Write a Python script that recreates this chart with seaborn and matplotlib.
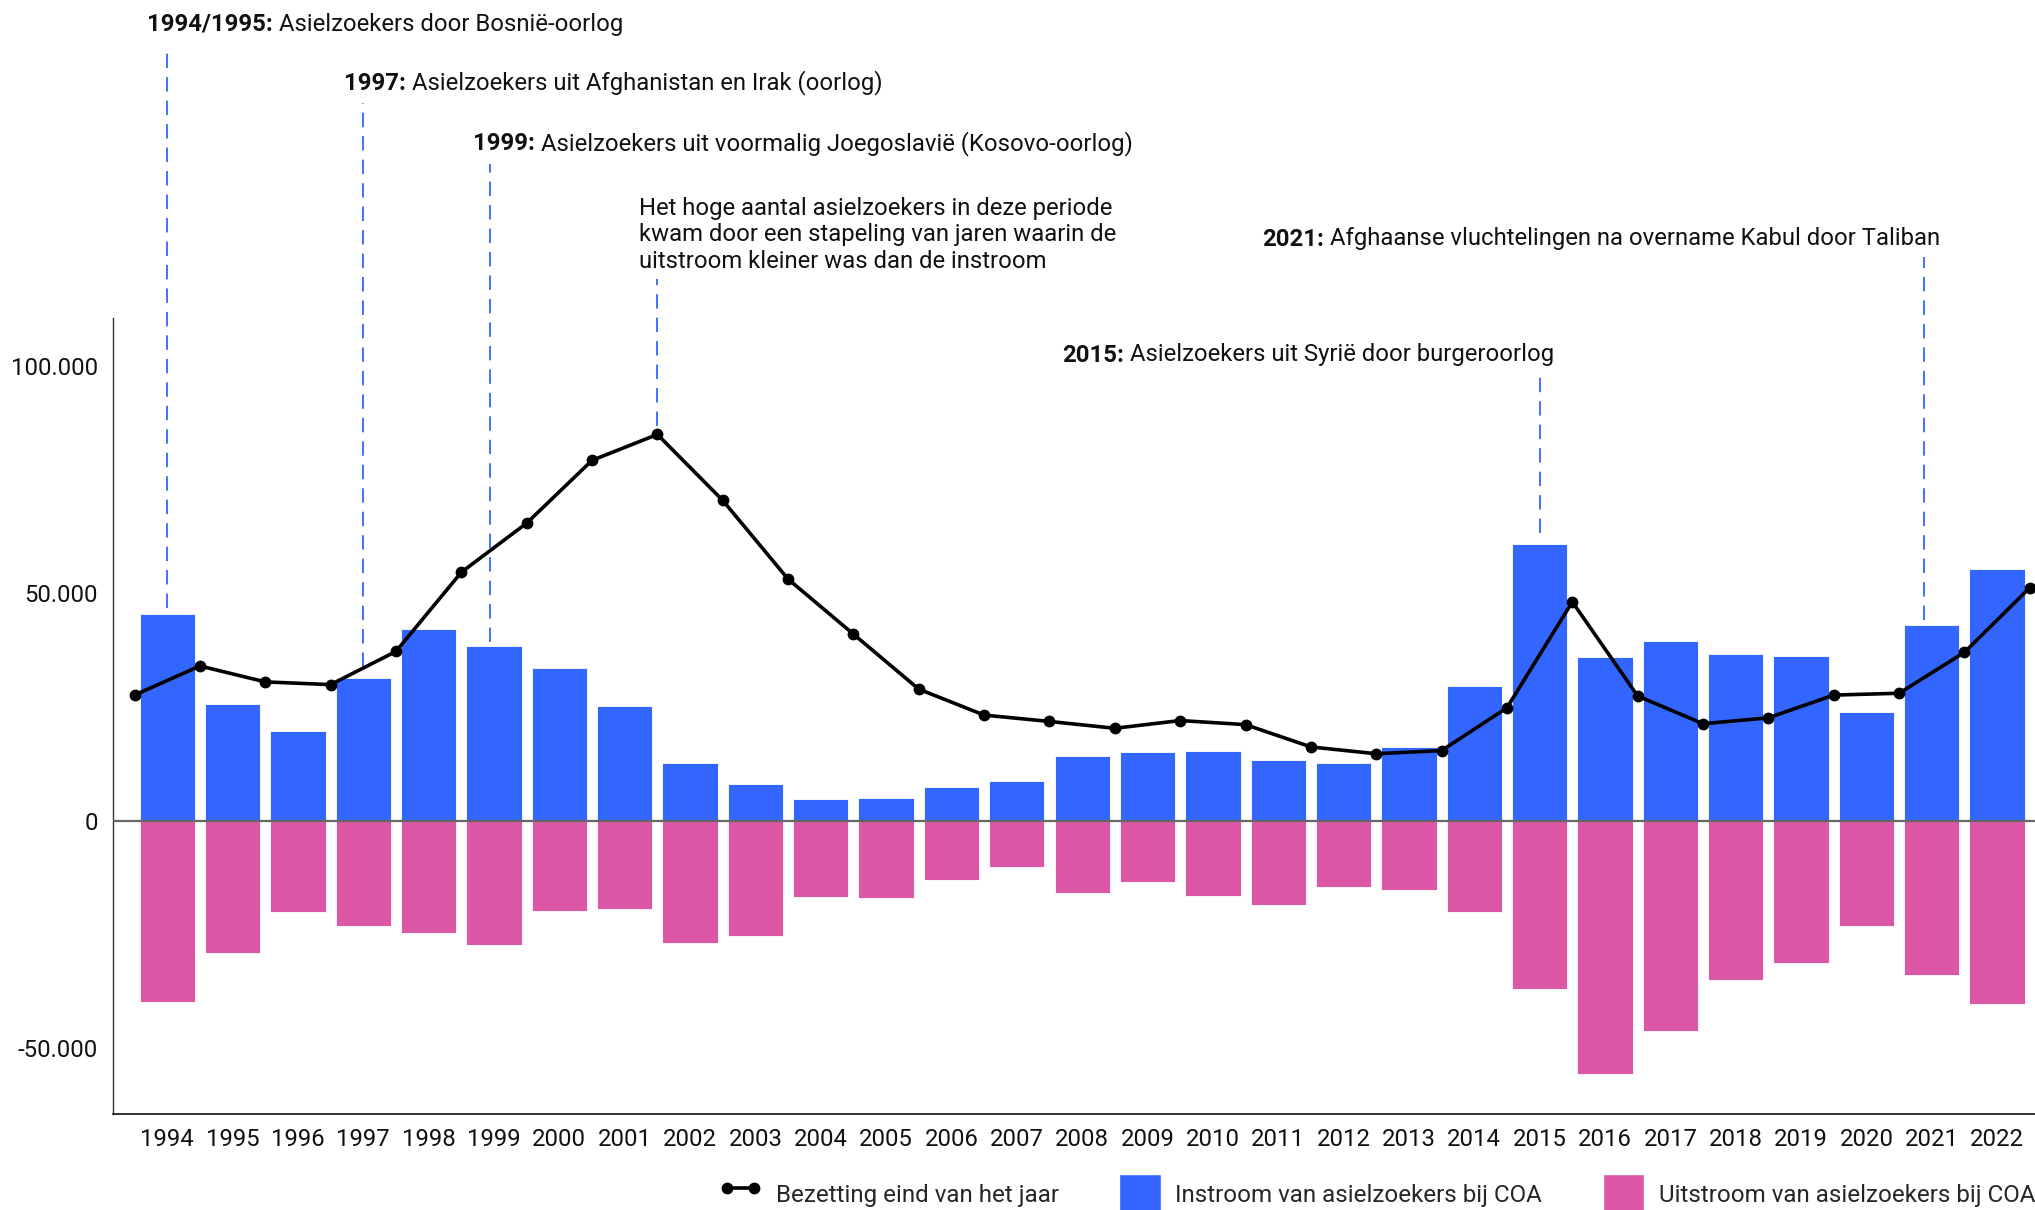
import matplotlib
matplotlib.use("Agg")
import matplotlib.pyplot as plt
from matplotlib.lines import Line2D
from matplotlib.patches import Patch
import numpy as np
import seaborn as sns

# --- data ---
jaren = list(range(1994, 2023))
instroom = [45400, 25600, 19700, 31250, 42100, 38300, 33600, 25200, 12600, 8100,
            4800, 5000, 7300, 8600, 14300, 15000, 15400, 13300, 12700, 16200,
            29700, 60900, 36000, 39400, 36700, 36300, 23800, 43100, 55300]
uitstroom = [39900, 29100, 20100, 23100, 24600, 27300, 19900, 19500, 26900, 25300,
             16800, 17000, 13000, 10100, 16000, 13600, 16500, 18500, 14500, 15300,
             20100, 37000, 55800, 46300, 35100, 31400, 23100, 33900, 40400]
# bezetting op 31 december van 1993 t/m 2022
bezetting_jaren = list(range(1993, 2023))
bezetting = [27600, 34000, 30500, 29900, 37200, 54600, 65400, 79200, 84900, 70400,
             53100, 41000, 28900, 23200, 21800, 20300, 22000, 21100, 16200, 14700,
             15400, 24800, 48100, 27400, 21300, 22600, 27600, 28000, 37000, 51200]

y_ticks = [-50000, 0, 50000, 100000]
y_labels = ["-50.000", "0", "50.000", "100.000"]

legend_labels = ["Bezetting eind van het jaar",
                 "Instroom van asielzoekers bij COA",
                 "Uitstroom van asielzoekers bij COA"]

# annotations: (x of dashed line, y where it stops, bold part, rest)
annot_x = [1994, 1997, 1998.94, 2001.5, 2015, 2020.88]
annot_end = [46700, 33800, 39200, 86700, 63300, 44000]
annot_bold = ["1994/1995:", "1997:", "1999:", "", "2015:", "2021:"]
annot_rest = ["Asielzoekers door Bosnië-oorlog",
              "Asielzoekers uit Afghanistan en Irak (oorlog)",
              "Asielzoekers uit voormalig Joegoslavië (Kosovo-oorlog)",
              "Het hoge aantal asielzoekers in deze periode\n"
              "kwam door een stapeling van jaren waarin de\n"
              "uitstroom kleiner was dan de instroom",
              "Asielzoekers uit Syrië door burgeroorlog",
              "Afghaanse vluchtelingen na overname Kabul door Taliban"]

BLAUW = "#3366ff"
ROZE = "#dd57a7"

W, H = 2035, 1210
sns.set_theme(style="white")
plt.rcParams["font.family"] = ["Roboto", "DejaVu Sans"]
FS = 17.2

fig = plt.figure(figsize=(W / 100, H / 100), dpi=100)
ax = fig.add_axes([113 / W, 1 - 1114 / H, 1 - 113 / W, (1114 - 318) / H])

sns.barplot(x=jaren, y=instroom, native_scale=True, width=0.846, color=BLAUW,
            saturation=1, edgecolor="white", linewidth=0.6, ax=ax, zorder=2)
sns.barplot(x=jaren, y=[-v for v in uitstroom], native_scale=True, width=0.846,
            color=ROZE, saturation=1, edgecolor="white", linewidth=0.6, ax=ax, zorder=2)
ax.axhline(0, color="#666666", lw=1.6, zorder=3)
sns.lineplot(x=[j + 0.5 for j in bezetting_jaren], y=bezetting, color="black",
             lw=2.6, marker="o", markersize=8.5, markeredgewidth=0, ax=ax,
             zorder=5, clip_on=False)

ax.set_xlim(1993.17, 2022.58)
ax.set_ylim(-64500, 110500)
ax.set_xticks(jaren)
ax.set_xticklabels([str(j) for j in jaren], fontsize=FS)
ax.set_yticks(y_ticks)
ax.set_yticklabels(y_labels, fontsize=FS)
ax.tick_params(axis="x", length=0, pad=10, colors="#111111")
ax.tick_params(axis="y", length=0, pad=11, colors="#111111")
ax.set_xlabel("")
ax.set_ylabel("")
for s in ["top", "right"]:
    ax.spines[s].set_visible(False)
ax.spines["left"].set_color("#333333")
ax.spines["left"].set_linewidth(1.0)
ax.spines["bottom"].set_color("#111111")
ax.spines["bottom"].set_linewidth(1.2)

# dashed annotation lines, from text down to the mark
px_per_val = (1114 - 318) / (110500 + 64500)
line_tops_px = [45, 103, 164, 279, 376, 257]
for x, y_end, top in zip(annot_x, annot_end, line_tops_px):
    y_top = (1114 - top) / px_per_val - 64500
    ax.plot([x, x], [y_end, y_top], color=BLAUW, lw=1.3, ls=(0, (8, 5)),
            clip_on=False, zorder=4)

# annotation texts (left x, center y in pixels)
text_pos = [(147, 24), (344, 83), (473, 144), (639, 235), (1062, 355), (1262, 239)]
fig.canvas.draw()
renderer = fig.canvas.get_renderer()
for (tx, ty), b, rest in zip(text_pos, annot_bold, annot_rest):
    x0 = tx / W
    if b:
        tb = fig.text(x0, 1 - ty / H, b, fontsize=FS, fontweight="bold",
                      va="center", ha="left", color="#111111")
        bb = tb.get_window_extent(renderer=renderer)
        x0 = (bb.x1 + 6) / W
    fig.text(x0, 1 - ty / H, rest, fontsize=FS, va="center", ha="left",
             color="#111111", linespacing=1.22)

# legend
handles = [Line2D([], [], color="black", lw=2.6, marker="o", markersize=8.5,
                  markeredgewidth=0, markevery=[0]),
           Patch(facecolor=BLAUW), Patch(facecolor=ROZE)]
fig.legend(handles, legend_labels, loc="center right", bbox_to_anchor=(1.0, 1 - 1194 / H),
           ncol=3, frameon=False, fontsize=17.4, handlelength=1.72, handleheight=2.2,
           handletextpad=0.6, columnspacing=2.5, borderpad=0, borderaxespad=0,
           numpoints=2)

fig.savefig("out.png", dpi=100)
